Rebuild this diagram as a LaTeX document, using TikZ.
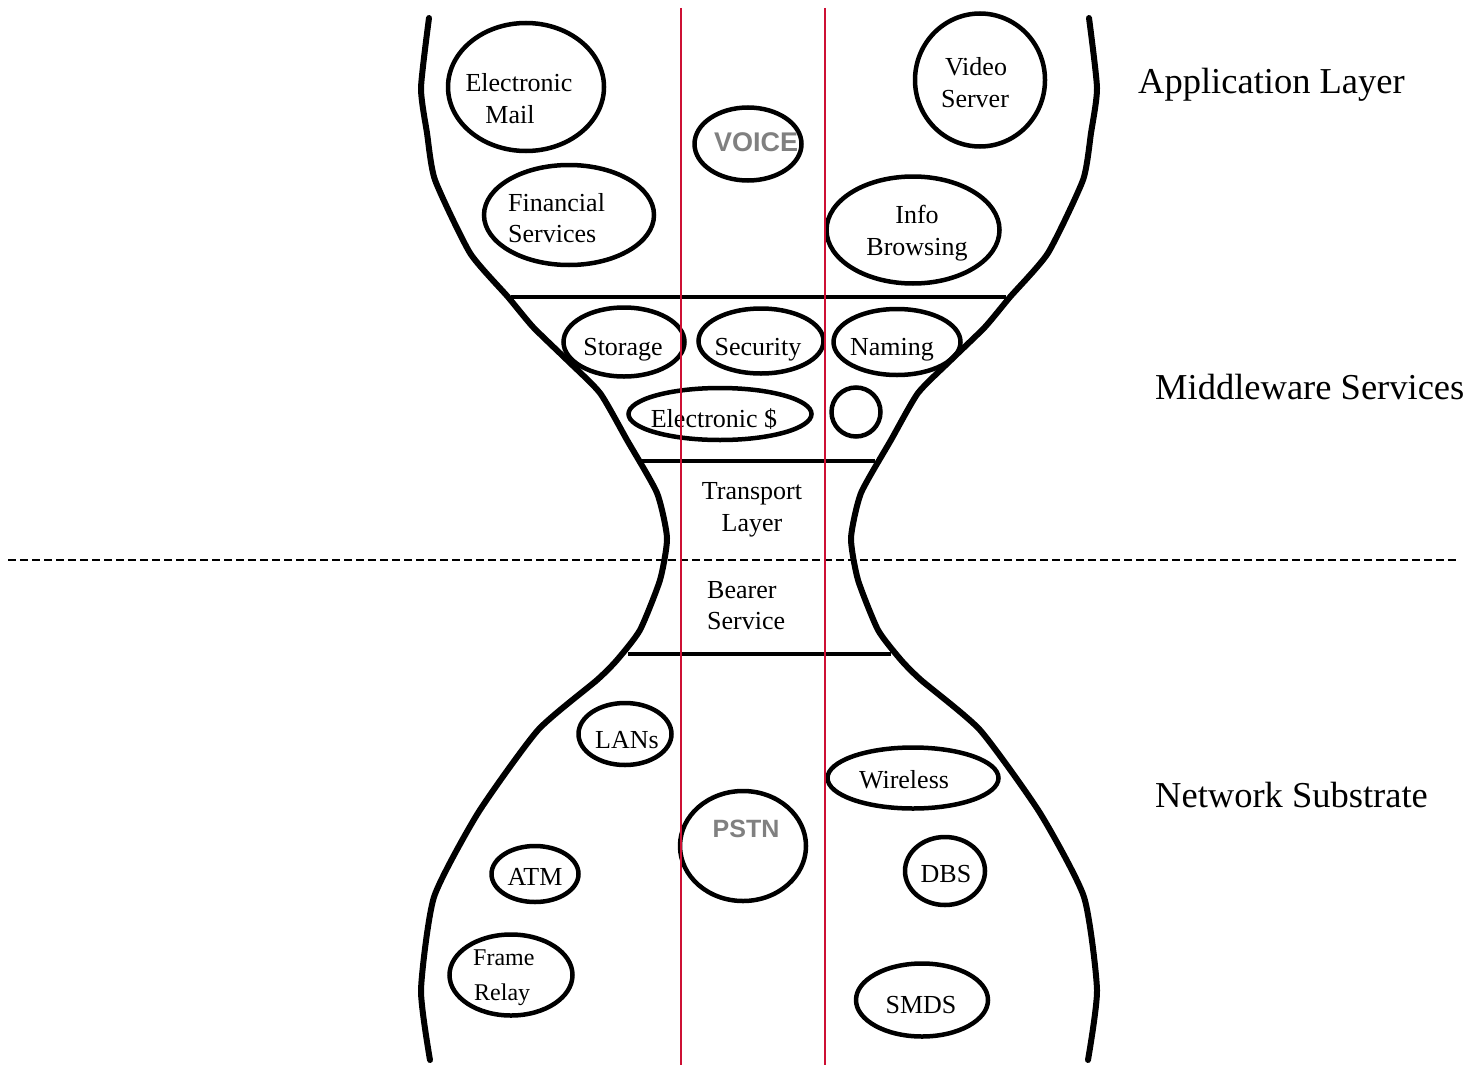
\documentclass[tikz,border=0pt]{standalone}
\usepackage{fontspec}
\setmainfont{Liberation Serif}
\newfontfamily\sansf{Liberation Sans}
\usetikzlibrary{shapes.geometric}
\definecolor{redline}{RGB}{205,16,52}
\definecolor{graytxt}{RGB}{128,128,128}
\begin{document}
\begin{tikzpicture}[x=1pt,y=-1pt,
  ell/.style={draw, ellipse, line width=4.5pt, inner sep=0pt},
  txt/.style={anchor=base, inner sep=0pt, font=\fontsize{26}{30}\selectfont},
  txtl/.style={txt, anchor=base west},
  txts/.style={anchor=base west, inner sep=0pt, font=\fontsize{24}{28}\selectfont},
  gtxt/.style={anchor=base, inner sep=0pt, text=graytxt, font=\sansf\bfseries\fontsize{27}{30}\selectfont},
  laytxt/.style={anchor=base west, inner sep=0pt, font=\fontsize{36.5}{40}\selectfont},
  hg/.style={line width=6pt, line cap=round, line join=round},
  bar/.style={line width=4.5pt},
  red/.style={draw=redline, line width=2.2pt}]
\useasboundingbox (0,0) rectangle (1477,1065);
\fill[white] (0,0) rectangle (1477,1065);

% hourglass outline
\draw[hg] plot[smooth, tension=0.35] coordinates {(429,18) (421,88) (427,133) (435,180) (470,253) (508,297) (533,327) (567,360) (600,393) (627,440) (657,493) (667,538) (660,580) (640,630) (617,660) (597,680) (538,730) (478,813) (434,897) (421,990) (430,1060)};
\draw[hg] plot[smooth, tension=0.35] coordinates {(1089,18) (1097,88) (1091,133) (1083,180) (1048,253) (1010,297) (985,327) (951,360) (918,393) (891,440) (861,493) (851,538) (858,580) (878,630) (901,660) (921,680) (980,730) (1040,813) (1084,897) (1097,990) (1088,1060)};

% horizontal bars
\draw[bar] (511,297) -- (1006,297);
\draw[bar] (641,461) -- (875,461);
\draw[bar] (628,654) -- (891,654);

% dashed divider
\draw[line width=1.3pt, dash pattern=on 8pt off 4pt] (8,560) -- (1456,560);

% application layer
\node[ell, minimum width=156, minimum height=128] (email) at (526,87) {};
\node[txt] (emailA) at (519,91) {Electronic};
\node[txt] (emailB) at (510,123) {Mail};
\node[ell, minimum width=170, minimum height=100] (fin) at (569,215) {};
\node[txtl] (finA) at (508,211) {Financial};
\node[txtl] (finB) at (508,242) {Services};
\node[ell, minimum width=107, minimum height=73] (voice) at (748,144) {};
\node[gtxt] (voiceT) at (756,151) {VOICE};
\node[ell, minimum width=130, minimum height=133] (video) at (980,80) {};
\node[txt] (videoA) at (976,75) {Video};
\node[txt] (videoB) at (975,107) {Server};
\node[ell, minimum width=173, minimum height=107] (info) at (913,230) {};
\node[txt] (infoA) at (917,223) {Info};
\node[txt] (infoB) at (917,255) {Browsing};

% middleware
\node[ell, minimum width=121, minimum height=69] (storage) at (624,342) {};
\node[txt] (storageT) at (623,355) {Storage};
\node[ell, minimum width=125, minimum height=65] (security) at (761,341) {};
\node[txt] (securityT) at (758,355) {Security};
\node[ell, minimum width=127, minimum height=66] (naming) at (897,342) {};
\node[txt] (namingT) at (892,355) {Naming};
\node[ell, minimum width=183, minimum height=52] (emoney) at (720,414) {};
\node[txt] (emoneyT) at (714,427) {Electronic \$};
\node[ell, minimum width=49, minimum height=49] (circ) at (856,412) {};

% transport / bearer
\node[txt] (transA) at (752,499) {Transport};
\node[txt] (transB) at (752,531) {Layer};
\node[txtl] (bearA) at (707,598) {Bearer};
\node[txtl] (bearB) at (707,629) {Service};

% network substrate
\node[ell, minimum width=93, minimum height=62] (lans) at (625,734) {};
\node[txt] (lansT) at (627,748) {LANs};
\node[ell, minimum width=171, minimum height=61] (wireless) at (913,778) {};
\node[txt] (wirelessT) at (904,788) {Wireless};
\node[ell, minimum width=126, minimum height=110] (pstn) at (743,846) {};
\node[gtxt, font=\sansf\bfseries\fontsize{25}{28}\selectfont] (pstnT) at (746,837) {PSTN};
\node[ell, minimum width=87, minimum height=56] (atm) at (535,874) {};
\node[txt] (atmT) at (535,885) {ATM};
\node[ell, minimum width=80, minimum height=68] (dbs) at (945,871) {};
\node[txt] (dbsT) at (946,882) {DBS};
\node[ell, minimum width=123, minimum height=81] (frame) at (511,975) {};
\node[txts] (frameA) at (473,965) {Frame};
\node[txts] (frameB) at (474,1000) {Relay};
\node[ell, minimum width=132, minimum height=73] (smds) at (922,1000) {};
\node[txt] (smdsT) at (921,1013) {SMDS};

% layer labels
\node[laytxt] (appL) at (1138,93) {Application Layer};
\node[laytxt] (midL) at (1155,399) {Middleware Services};
\node[laytxt] (netL) at (1155,807) {Network Substrate};

% red vertical lines
\draw[red] (681,8) -- (681,1065);
\draw[red] (825,8) -- (825,1065);
\end{tikzpicture}
\end{document}
